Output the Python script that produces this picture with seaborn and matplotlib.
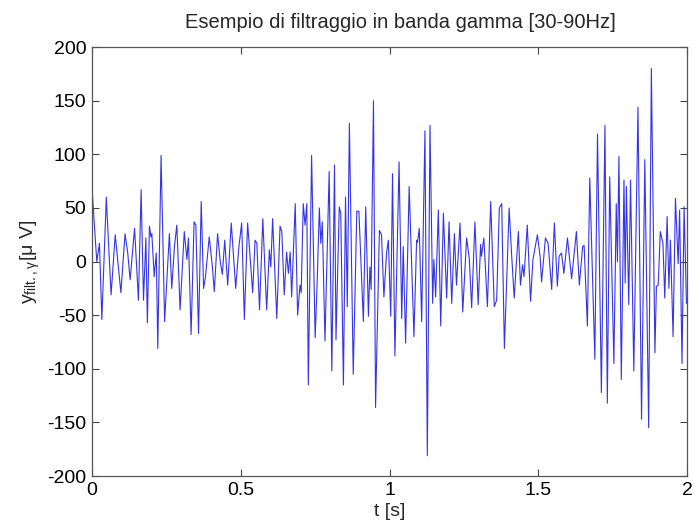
import matplotlib
matplotlib.use("Agg")
import matplotlib.pyplot as plt
import seaborn as sns
import pandas as pd

# --- data (local extrema of the filtered signal) ---
t_s = [0.000, 0.016, 0.025, 0.033, 0.048, 0.064, 0.078, 0.097, 0.111, 0.120,
       0.128, 0.143, 0.156, 0.165, 0.173, 0.181, 0.186, 0.193, 0.198, 0.201,
       0.209, 0.216, 0.221, 0.232, 0.244, 0.260, 0.268, 0.277, 0.285, 0.296,
       0.310, 0.319, 0.324, 0.333, 0.343, 0.349, 0.358, 0.367, 0.375, 0.381,
       0.394, 0.404, 0.411, 0.422, 0.431, 0.438, 0.446, 0.456, 0.468, 0.483,
       0.493, 0.503, 0.512, 0.523, 0.540, 0.548, 0.554, 0.563, 0.574, 0.587,
       0.596, 0.601, 0.607, 0.621, 0.632, 0.638, 0.646, 0.654, 0.660, 0.666,
       0.671, 0.683, 0.691, 0.699, 0.703, 0.710, 0.716, 0.722, 0.727, 0.738,
       0.750, 0.757, 0.764, 0.769, 0.774, 0.783, 0.797, 0.806, 0.815, 0.820,
       0.831, 0.836, 0.845, 0.852, 0.858, 0.865, 0.878, 0.890, 0.897, 0.912,
       0.920, 0.929, 0.934, 0.938, 0.946, 0.953, 0.966, 0.973, 0.981, 0.990,
       0.996, 1.004, 1.010, 1.018, 1.032, 1.041, 1.046, 1.054, 1.066, 1.082,
       1.091, 1.094, 1.100, 1.108, 1.119, 1.127, 1.136, 1.145, 1.149, 1.155,
       1.164, 1.172, 1.181, 1.192, 1.200, 1.209, 1.218, 1.225, 1.237, 1.246,
       1.259, 1.268, 1.276, 1.287, 1.298, 1.306, 1.309, 1.317, 1.329, 1.340,
       1.352, 1.360, 1.369, 1.377, 1.386, 1.402, 1.410, 1.419, 1.433, 1.440,
       1.447, 1.452, 1.463, 1.474, 1.482, 1.497, 1.506, 1.511, 1.524, 1.533,
       1.545, 1.554, 1.564, 1.570, 1.578, 1.586, 1.598, 1.612, 1.628, 1.638,
       1.649, 1.654, 1.665, 1.673, 1.683, 1.690, 1.699, 1.712, 1.724, 1.732,
       1.740, 1.754, 1.762, 1.766, 1.771, 1.779, 1.788, 1.792, 1.796, 1.804,
       1.810, 1.821, 1.835, 1.847, 1.858, 1.871, 1.880, 1.892, 1.897, 1.903,
       1.910, 1.919, 1.925, 1.933, 1.939, 1.944, 1.953, 1.961, 1.970, 1.975,
       1.983, 1.990, 1.998]
y_uv = [68, 0, 17, -54, 60, -31, 25, -29, 26, 8,
        -17, 31, -36, 67, -36, 22, -57, 33, 23, 26,
        -14, 8, -81, 99, -56, 26, -25, 14, 34, -45,
        28, 2, 22, -68, 37, 34, -67, 56, -25, -15,
        23, -3, -28, 26, 0, -12, 20, -22, 36, -25,
        12, 36, -54, 36, -29, 20, 17, -45, 40, -45,
        11, -5, 40, -53, 33, 28, -31, 9, -11, 9,
        -33, 54, -50, -22, -29, 54, 34, 54, -115, 99,
        -71, -17, 50, 17, 37, -74, 84, -102, 90, -73,
        51, 45, -115, 60, -42, 129, -105, 47, 47, -56,
        51, -51, -5, -26, 150, -136, 29, 25, -33, 8,
        20, -51, 82, -88, 93, -53, 14, -76, 70, -70,
        20, 18, 31, -56, 122, -181, 127, -39, 2, -33,
        48, -60, 45, -34, 37, -39, 26, -22, 36, -47,
        22, 3, -43, 37, -40, 16, 5, 22, -42, 56,
        -42, -36, 50, 54, -81, 50, 8, -34, 28, -22,
        -3, -14, 34, -37, 2, 25, 5, -19, 22, 17,
        -26, 36, -23, 5, 8, -11, 22, -16, 28, -22,
        14, 15, -60, 78, -23, -91, 119, -122, 127, -132,
        79, -95, 54, 0, 98, -110, 76, -20, 70, -40,
        76, -102, 144, -147, 95, -155, 180, -85, -23, -22,
        28, 17, -34, 42, -25, 20, -70, 59, -2, 48,
        -95, 51, -39]

x_ticks = [0, 0.5, 1, 1.5, 2]
x_tick_labels = ["0", "0.5", "1", "1.5", "2"]
y_ticks = [-200, -150, -100, -50, 0, 50, 100, 150, 200]
y_tick_labels = ["-200", "-150", "-100", "-50", "0", "50", "100", "150", "200"]

title_text = "Esempio di filtraggio in banda gamma [30-90Hz]"
x_label = "t [s]"
y_label = r"$\mathregular{y_{filt.,\gamma}[\mu\ V]}$"

df = pd.DataFrame({"t": t_s, "y": y_uv})

sns.set_style("white")
plt.rcParams["font.family"] = ["Liberation Sans", "DejaVu Sans"]
plt.rcParams["mathtext.fontset"] = "custom"
plt.rcParams["mathtext.rm"] = "Liberation Sans"
plt.rcParams["mathtext.it"] = "Liberation Sans:italic"

fig = plt.figure(figsize=(6.94, 5.29), dpi=100)
ax = fig.add_axes([0.1326, 0.100, 0.8574, 0.811])

sns.lineplot(data=df, x="t", y="y", ax=ax, color="#3535e6", linewidth=0.8,
             sort=False, estimator=None)

ax.set_xlim(0, 2)
ax.set_ylim(-200, 200)
ax.set_xticks(x_ticks)
ax.set_xticklabels(x_tick_labels)
ax.set_yticks(y_ticks)
ax.set_yticklabels(y_tick_labels)
ax.tick_params(direction="in", length=5, width=0.8, colors="#444444",
               labelcolor="black", labelsize=14, top=True, right=True,
               bottom=True, left=True, pad=4)
for sp in ax.spines.values():
    sp.set_visible(True)
    sp.set_color("#555555")
    sp.set_linewidth(0.9)

ax.set_title(title_text, fontsize=14.5, pad=14, x=0.518)
ax.set_xlabel(x_label, fontsize=14, labelpad=3)
ax.set_ylabel(y_label, fontsize=14, labelpad=4)

fig.savefig("out.png", dpi=100, facecolor="white")
